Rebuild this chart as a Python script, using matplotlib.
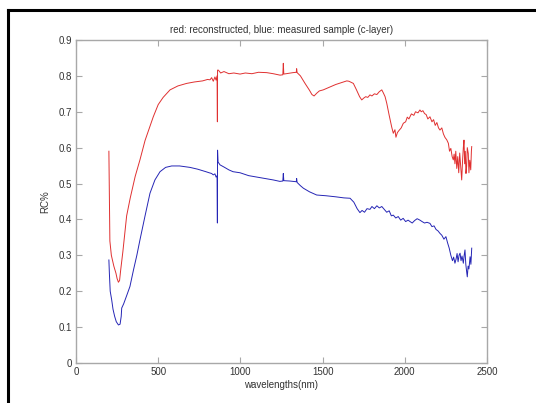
import matplotlib
matplotlib.use("Agg")
import matplotlib.pyplot as plt
from matplotlib.lines import Line2D

plt.rcParams['font.family'] = ['Liberation Sans', 'DejaVu Sans']

# reconstructed spectrum (red)
wl_red = [200, 203, 206, 215, 230, 243, 250, 258, 265, 272, 285, 308, 330, 360, 389, 420, 450, 470,
          500, 530, 572, 620, 673, 720, 770, 800, 815, 825, 835, 845, 852, 858, 860, 861, 866, 880,
          900, 930, 960, 998, 1030, 1070, 1110, 1160, 1200, 1241, 1258, 1261, 1264, 1290, 1320, 1340,
          1342, 1345, 1365, 1393, 1420, 1435, 1448, 1465, 1480, 1504, 1540, 1580, 1620, 1647, 1660,
          1687, 1705, 1725, 1738, 1750, 1762, 1775, 1788, 1800, 1815, 1830, 1845, 1860, 1870, 1880,
          1890, 1905, 1920, 1930, 1940, 1946, 1955, 1965, 1978, 1991, 2005, 2015, 2025, 2040, 2055,
          2065, 2080, 2092, 2100, 2110, 2120, 2130, 2140, 2153, 2165, 2175, 2185, 2195, 2205, 2214,
          2225, 2235, 2245, 2255, 2265, 2272, 2280, 2288, 2295, 2300, 2305, 2310, 2316, 2322, 2328,
          2334, 2340, 2346, 2352, 2356, 2360, 2364, 2368, 2372, 2376, 2380, 2386, 2390, 2395, 2401,
          2405, 2407]
rc_red = [0.59, 0.45, 0.34, 0.30, 0.27, 0.25, 0.235, 0.225, 0.23, 0.26, 0.31, 0.41, 0.46, 0.52, 0.566,
          0.62, 0.66, 0.686, 0.72, 0.74, 0.761, 0.772, 0.779, 0.783, 0.786, 0.79, 0.789, 0.795, 0.785,
          0.797, 0.788, 0.80, 0.672, 0.816, 0.816, 0.808, 0.812, 0.806, 0.808, 0.805, 0.808, 0.806,
          0.810, 0.809, 0.806, 0.802, 0.803, 0.835, 0.805, 0.807, 0.809, 0.810, 0.82, 0.809, 0.800,
          0.779, 0.760, 0.748, 0.744, 0.752, 0.758, 0.761, 0.768, 0.776, 0.782, 0.786, 0.785, 0.779,
          0.762, 0.742, 0.733, 0.738, 0.742, 0.740, 0.747, 0.744, 0.750, 0.748, 0.756, 0.761, 0.752,
          0.742, 0.724, 0.690, 0.658, 0.640, 0.650, 0.629, 0.642, 0.648, 0.655, 0.668, 0.672, 0.685,
          0.680, 0.694, 0.690, 0.700, 0.697, 0.705, 0.700, 0.703, 0.695, 0.692, 0.680, 0.686, 0.672,
          0.678, 0.662, 0.670, 0.655, 0.649, 0.655, 0.638, 0.628, 0.622, 0.612, 0.590, 0.598, 0.575,
          0.566, 0.582, 0.555, 0.590, 0.542, 0.575, 0.530, 0.585, 0.548, 0.510, 0.570, 0.600, 0.621,
          0.555, 0.590, 0.528, 0.547, 0.600, 0.584, 0.530, 0.565, 0.538, 0.590, 0.603]

# measured sample (blue)
wl_blue = [200, 203, 208, 217, 225, 235, 245, 258, 268, 275, 278, 290, 310, 328, 350, 370, 389, 420,
           450, 480, 511, 545, 582, 630, 693, 740, 790, 810, 825, 835, 845, 852, 858, 860, 861, 864,
           876, 900, 930, 955, 998, 1050, 1100, 1150, 1200, 1240, 1258, 1261, 1264, 1300, 1340, 1342,
           1345, 1365, 1383, 1420, 1464, 1520, 1580, 1630, 1667, 1690, 1710, 1727, 1740, 1755, 1770,
           1788, 1800, 1815, 1830, 1845, 1860, 1875, 1890, 1905, 1918, 1930, 1945, 1960, 1975, 1990,
           2005, 2020, 2032, 2045, 2060, 2075, 2092, 2105, 2120, 2135, 2153, 2165, 2178, 2190, 2202,
           2214, 2225, 2238, 2250, 2260, 2270, 2280, 2290, 2297, 2305, 2312, 2318, 2324, 2330, 2336,
           2342, 2348, 2356, 2361, 2366, 2371, 2376, 2380, 2385, 2390, 2397, 2402, 2407]
rc_blue = [0.287, 0.25, 0.20, 0.176, 0.15, 0.13, 0.115, 0.106, 0.108, 0.13, 0.153, 0.165, 0.19, 0.213,
           0.26, 0.30, 0.343, 0.41, 0.473, 0.51, 0.533, 0.545, 0.549, 0.549, 0.545, 0.540, 0.533,
           0.530, 0.528, 0.524, 0.527, 0.518, 0.522, 0.39, 0.593, 0.560, 0.552, 0.546, 0.538, 0.533,
           0.530, 0.522, 0.518, 0.514, 0.510, 0.506, 0.507, 0.528, 0.508, 0.507, 0.505, 0.514, 0.503,
           0.494, 0.487, 0.477, 0.468, 0.466, 0.463, 0.460, 0.459, 0.448, 0.430, 0.419, 0.425, 0.420,
           0.430, 0.428, 0.436, 0.430, 0.438, 0.432, 0.436, 0.428, 0.420, 0.424, 0.410, 0.412, 0.404,
           0.408, 0.398, 0.403, 0.394, 0.398, 0.394, 0.390, 0.397, 0.402, 0.398, 0.394, 0.390, 0.392,
           0.389, 0.380, 0.382, 0.372, 0.368, 0.361, 0.356, 0.345, 0.352, 0.335, 0.320, 0.300, 0.285,
           0.295, 0.278, 0.290, 0.305, 0.282, 0.300, 0.306, 0.285, 0.298, 0.278, 0.300, 0.315, 0.275,
           0.255, 0.240, 0.270, 0.262, 0.296, 0.275, 0.320]

x_ticks = [0, 500, 1000, 1500, 2000, 2500]
y_ticks = [0, 0.1, 0.2, 0.3, 0.4, 0.5, 0.6, 0.7, 0.8, 0.9]
y_ticklabels = ['0', '0.1', '0.2', '0.3', '0.4', '0.5', '0.6', '0.7', '0.8', '0.9']

fig = plt.figure(figsize=(5.36, 4.03), dpi=100)
ax = fig.add_axes([0.1418, 0.0993, 0.7668, 0.8015])

ax.plot(wl_red, rc_red, color='#e03030', linewidth=0.7)
ax.plot(wl_blue, rc_blue, color='#2525b5', linewidth=0.7)

ax.set_xlim(0, 2500)
ax.set_ylim(0, 0.9)
ax.set_xticks(x_ticks)
ax.set_yticks(y_ticks)
ax.set_yticklabels(y_ticklabels)

# matlab-like axes: grey box, inward ticks on all sides
for spine in ax.spines.values():
    spine.set_color('#a8a8a8')
    spine.set_linewidth(1.0)
ax.tick_params(direction='in', top=True, right=True, length=4, width=0.8,
               color='#a8a8a8', labelsize=7, labelcolor='#333333', pad=3)

ax.set_title("red: reconstructed, blue: measured sample (c-layer)", fontsize=7, color='#333333', pad=5)
ax.set_xlabel("wavelengths(nm)", fontsize=7, color='#333333', labelpad=2)
ax.set_ylabel("RC%", fontsize=7, color='#333333', labelpad=6)

# black frame at the left and top edge of the picture
fig.add_artist(Line2D([8 / 536, 8 / 536], [0, 1 - 10 / 403], color='black', linewidth=2.2,
                      transform=fig.transFigure))
fig.add_artist(Line2D([8 / 536, 1], [1 - 10 / 403, 1 - 10 / 403], color='black', linewidth=2.2,
                      transform=fig.transFigure))

fig.savefig("out.png", dpi=100)
